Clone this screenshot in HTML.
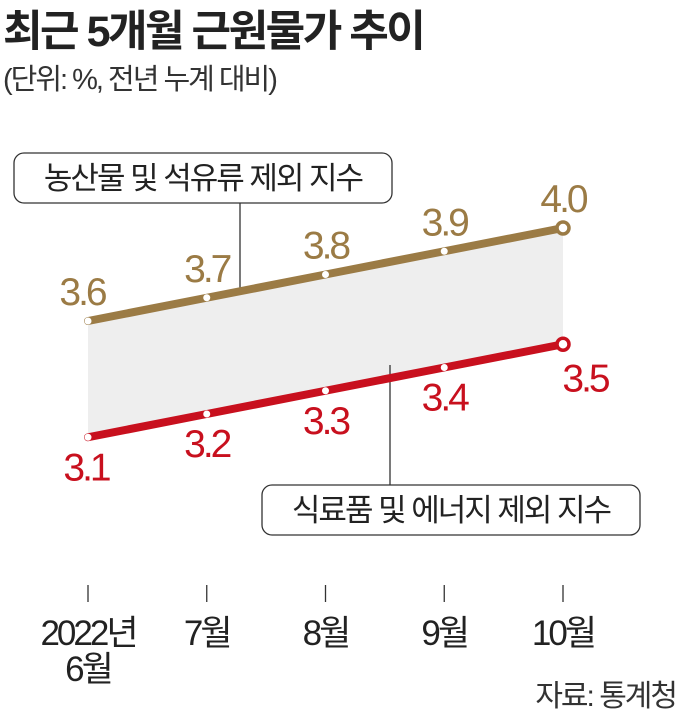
<!DOCTYPE html>
<html><head><meta charset="utf-8">
<style>
html,body{margin:0;padding:0;background:#fff;}
body{width:680px;height:717px;overflow:hidden;position:relative;font-family:"Liberation Sans","Noto Sans CJK KR",sans-serif;}
svg text{font-family:"Liberation Sans","Noto Sans CJK KR",sans-serif;}
</style></head>
<body>
<svg id="chart" width="680" height="717" viewBox="0 0 680 717" xmlns="http://www.w3.org/2000/svg">
<text x="3" y="46" font-size="43" font-weight="bold" fill="#222" letter-spacing="-2.5">최근 5개월 근원물가 추이</text>
<text x="3" y="89" font-size="29" fill="#333" letter-spacing="-2">(단위: %, 전년 누계 대비)</text>
<g id="band"></g>
<line x1="240" y1="203" x2="240" y2="290" stroke="#333" stroke-width="1.3"/>
<line x1="390" y1="365" x2="390" y2="485" stroke="#333" stroke-width="1.3"/>
<g id="marks"></g>
<g>
<rect x="14" y="153" width="378" height="50" rx="10" fill="#fff" stroke="#333" stroke-width="1.3"/>
<text x="203" y="189" font-size="31" text-anchor="middle" fill="#222" letter-spacing="-2">농산물 및 석유류 제외 지수</text>
</g>
<g>
<rect x="262" y="485" width="378" height="50" rx="10" fill="#fff" stroke="#333" stroke-width="1.3"/>
<text x="451" y="521" font-size="31" text-anchor="middle" fill="#222" letter-spacing="-2">식료품 및 에너지 제외 지수</text>
</g>
<g id="xaxis"></g>
<text x="676" y="706" font-size="30" text-anchor="end" fill="#333" letter-spacing="-2">자료: 통계청</text>
</svg>
<script>
const categories = ["2022년|6월","7월","8월","9월","10월"];
const seriesAgri = [3.6,3.7,3.8,3.9,4.0];
const seriesFood = [3.1,3.2,3.3,3.4,3.5];
const valueLabelsAgri = ["3.6","3.7","3.8","3.9","4.0"];
const valueLabelsFood = ["3.1","3.2","3.3","3.4","3.5"];

const NS="http://www.w3.org/2000/svg";
function xPos(i){return 88+i*118.75;}
function yPos(v){return 321-(v-3.6)*232.5;}
function mk(tag,attrs,parent){const e=document.createElementNS(NS,tag);for(const k in attrs)e.setAttribute(k,attrs[k]);parent.appendChild(e);return e;}

const band=document.getElementById('band');
let pts=seriesAgri.map((v,i)=>xPos(i)+","+yPos(v));
for(let i=seriesFood.length-1;i>=0;i--)pts.push(xPos(i)+","+yPos(seriesFood[i]));
const poly=mk('polygon',{points:pts.join(' '),fill:'#eeeeee'},band);



const marks=document.getElementById('marks');
function drawSeries(vals,labels,color,name,labelAbove){
  const d=vals.map((v,i)=>(i?'L':'M')+xPos(i)+' '+yPos(v)).join(' ');
  const p=mk('path',{d:d,stroke:color,'stroke-width':8,fill:'none','stroke-linecap':'round'},marks);
  
  
  vals.forEach((v,i)=>{
    const last=i===vals.length-1;
    const c=mk('circle',{cx:xPos(i),cy:yPos(v),r:last?6:3.5,fill:'#fff',stroke:last?color:'none','stroke-width':last?3.5:0},marks);
    
    
    let lx=xPos(i), ly;
    if(labelAbove){ly=yPos(v)-16; if(i===0){lx=xPos(i)-6;}}
    else{ly=yPos(v)+43; if(i===0){lx=xPos(i)-2;} if(last){lx=xPos(i)+22;ly=yPos(v)+47;}}
    const t=mk('text',{x:lx,y:ly,'font-size':39,'text-anchor':'middle',fill:color,'letter-spacing':-3},marks);
    t.textContent=labels[i];
    
    
  });
}
drawSeries(seriesAgri,valueLabelsAgri,'#9b7b45',"agri-excl",true);
drawSeries(seriesFood,valueLabelsFood,'#c8101e',"food-excl",false);

const xa=document.getElementById('xaxis');
categories.forEach((c,i)=>{
  const tk=mk('line',{x1:xPos(i),y1:585,x2:xPos(i),y2:602,stroke:'#333','stroke-width':1.3},xa);
  
  
  c.split('|').forEach((ln,j)=>{
    const t=mk('text',{x:xPos(i),y:645+j*36,'font-size':35,'text-anchor':'middle',fill:'#222','letter-spacing':-3},xa);
    t.textContent=ln;
    
    
  });
});
</script>
</body></html>
